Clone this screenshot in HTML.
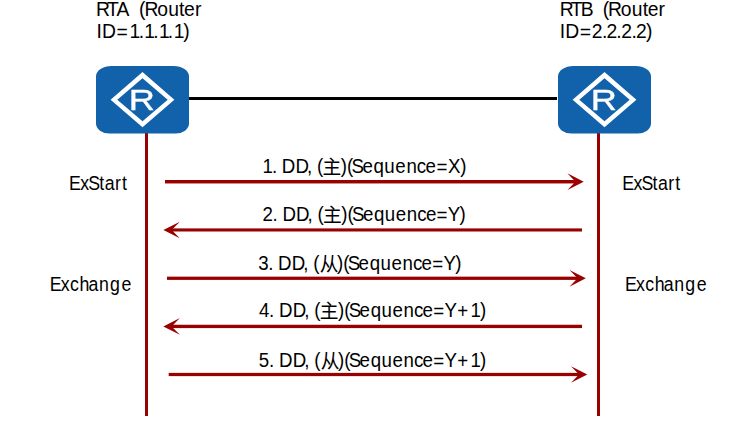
<!DOCTYPE html>
<html lang="zh-CN">
<head>
<meta charset="utf-8">
<title>OSPF DD Exchange</title>
<style>
  html, body { margin: 0; padding: 0; background: #ffffff; }
  body { width: 755px; height: 425px; overflow: hidden; }
  svg { display: block; }
  .lbl text { font-family: "Liberation Sans", "Noto Sans CJK SC", sans-serif; font-size: 19.7px; fill: #000; }
  .rl { font-family: "Liberation Sans", sans-serif; font-size: 30.3px; fill: #fff; stroke: #fff; stroke-width: 0.35px; }
</style>
</head>
<body>
<svg width="755" height="425" viewBox="0 0 755 425">
  <rect width="755" height="425" fill="#fff"/>
  <!-- link between the two routers -->
  <rect x="188" y="97" width="369" height="3" fill="#000"/>
  <!-- lifelines -->
  <rect x="145" y="132" width="3" height="284" fill="#990000"/>
  <rect x="597" y="132" width="3" height="284" fill="#990000"/>
  <!-- router RTA -->
  <g id="rta">
    <path fill="#1262ab" d="M96 76.5 A15.5 10.5 0 0 1 111.5 66 H173.5 A15.5 10.5 0 0 1 189 76.5 V123.6 A13.5 10 0 0 1 175.5 133.6 H109.5 A13.5 10 0 0 1 96 123.6 Z"/>
    <path fill="#fff" fill-rule="evenodd" d="M142.5 72.1 L174.4 99.7 L142.5 127.3 L110.6 99.7 Z M142.5 78.2 L167.7 99.7 L142.5 121.2 L117.3 99.7 Z"/>
    <text class="rl" transform="translate(141.9 110) scale(1.195 1)" text-anchor="middle" x="0" y="0" style="filter: opacity(1)">R</text>
  </g>
  <!-- router RTB -->
  <g id="rtb">
    <path fill="#1262ab" d="M558 76.5 A15.5 10.5 0 0 1 573.5 66 H635.5 A15.5 10.5 0 0 1 651 76.5 V123.6 A13.5 10 0 0 1 637.5 133.6 H571.5 A13.5 10 0 0 1 558 123.6 Z"/>
    <path fill="#fff" fill-rule="evenodd" d="M604.5 72.1 L636.4 99.7 L604.5 127.3 L572.6 99.7 Z M604.5 78.2 L629.7 99.7 L604.5 121.2 L579.3 99.7 Z"/>
    <text class="rl" transform="translate(603.9 110) scale(1.195 1)" text-anchor="middle" x="0" y="0" style="filter: opacity(1)">R</text>
  </g>
  <!-- message arrows -->
  <g fill="#990000">
    <rect x="165.00" y="180.00" width="411.90" height="3.45"/>
    <polygon points="583.7,181.70 567.4,173.35 575.4,181.70 567.4,190.05"/>
    <rect x="170.20" y="228.40" width="411.80" height="3.10"/>
    <polygon points="163.4,230.00 179.8,221.80 171.7,230.00 179.8,238.20"/>
    <rect x="167.00" y="276.65" width="412.00" height="3.25"/>
    <polygon points="585.8,278.30 569.5,269.95 577.5,278.30 569.5,286.65"/>
    <rect x="170.10" y="324.75" width="411.90" height="3.35"/>
    <polygon points="163.3,326.40 179.9,318.05 171.6,326.40 179.9,334.75"/>
    <rect x="168.70" y="372.88" width="411.80" height="3.24"/>
    <polygon points="587.3,374.50 571.0,366.15 579.0,374.50 571.0,382.85"/>
  </g>
  <!-- labels -->
  <g class="lbl">
    <text id="l1" x="276.2 286.3 292.6 296.7 311.1 323.2 329.5 333.7 339.6 358.7 365.2 370.1 381.5 393.3 404.4 416.0 427.8 438.7 447.8 459.5 471.5 484.4" transform="scale(0.95 1)" y="172.8 172.8 172.8 172.8 172.8 172.8 172.8 172.8 173.8 172.8 172.8 172.8 172.8 172.8 172.8 172.8 172.8 172.8 172.8 173.8 172.8 172.8">1. DD, (主)(Sequence=X)</text>
    <text id="l2" x="276.4 286.8 293.1 297.3 311.6 323.7 330.0 334.2 340.1 359.3 365.8 370.6 382.0 393.8 405.0 416.5 428.3 439.2 448.3 459.6 471.4 483.7" transform="scale(0.95 1)" y="220.8 220.8 220.8 220.8 220.8 220.8 220.8 220.8 221.8 220.8 220.8 220.8 220.8 220.8 220.8 220.8 220.8 220.8 220.8 221.8 220.8 220.8">2. DD, (主)(Sequence=Y)</text>
    <text id="l3" x="271.8 282.3 288.6 292.7 307.1 319.2 325.5 329.7 336.7 354.7 361.2 366.1 377.5 389.3 400.4 412.0 423.8 434.7 443.8 455.1 466.9 479.2" transform="scale(0.95 1)" y="269.8 269.8 269.8 269.8 269.8 269.8 269.8 269.8 270.8 269.8 269.8 269.8 269.8 269.8 269.8 269.8 269.8 269.8 269.8 270.8 269.8 269.8">3. DD, (从)(Sequence=Y)</text>
    <text id="l4" x="272.7 283.3 289.7 293.8 308.1 320.2 326.5 330.7 336.7 355.8 362.3 367.1 378.5 390.3 401.5 413.1 424.8 435.8 444.8 456.1 468.0 481.2 495.2 505.3" transform="scale(0.95 1)" y="316.8 316.8 316.8 316.8 316.8 316.8 316.8 316.8 317.8 316.8 316.8 316.8 316.8 316.8 316.8 316.8 316.8 316.8 316.8 317.8 316.8 317.8 316.8 316.8">4. DD, (主)(Sequence=Y+1)</text>
    <text id="l5" x="272.4 283.3 289.7 293.8 308.1 320.2 326.5 330.7 337.7 355.8 362.3 367.1 378.5 390.3 401.5 413.1 424.8 435.8 444.8 456.1 468.0 481.2 495.2 505.3" transform="scale(0.95 1)" y="366.8 366.8 366.8 366.8 366.8 366.8 366.8 366.8 367.8 366.8 366.8 366.8 366.8 366.8 366.8 366.8 366.8 366.8 366.8 367.8 366.8 367.8 366.8 366.8">5. DD, (从)(Sequence=Y+1)</text>
    <text id="a1" x="98.0 109.3 118.9 125.1 141.9 147.4 160.4 171.7 182.7 187.8 198.9" transform="scale(0.98 1)" y="15.6">RTA (Router</text>
    <text id="a2" x="98.5 104.1 118.9 132.1 141.5 147.2 156.4 162.3 171.3 177.4 186.9" transform="scale(0.98 1)" y="37.7 37.7 38.7 37.7 37.7 37.7 37.7 37.7 37.7 37.7 37.7">ID=1.1.1.1)</text>
    <text id="b1" x="571.1 582.4 592.7 598.8 615.0 620.5 633.5 644.7 655.8 660.9 671.9" transform="scale(0.98 1)" y="15.6">RTB (Router</text>
    <text id="b2" x="571.1 576.8 591.6 603.9 614.2 618.8 628.9 633.9 644.4 649.0 659.3" transform="scale(0.98 1)" y="37.7 37.7 38.7 37.7 37.7 37.7 37.7 37.7 37.7 37.7 37.7">ID=2.2.2.2)</text>
    <text id="e1" x="76.6 89.3 98.1 110.3 116.3 127.8 135.7" transform="scale(0.9 1)" y="189.8">ExStart</text>
    <text id="e2" x="691.3 704.0 712.8 725.0 731.0 742.4 750.4" transform="scale(0.9 1)" y="189.8">ExStart</text>
    <text id="x1" x="55.3 67.5 77.8 88.3 98.3 110.1 122.3 135.0" transform="scale(0.9 1)" y="290.8">Exchange</text>
    <text id="x2" x="694.4 706.6 716.9 727.4 737.4 749.2 761.4 774.1" transform="scale(0.9 1)" y="290.8">Exchange</text>
  </g>
</svg>
</body>
</html>
